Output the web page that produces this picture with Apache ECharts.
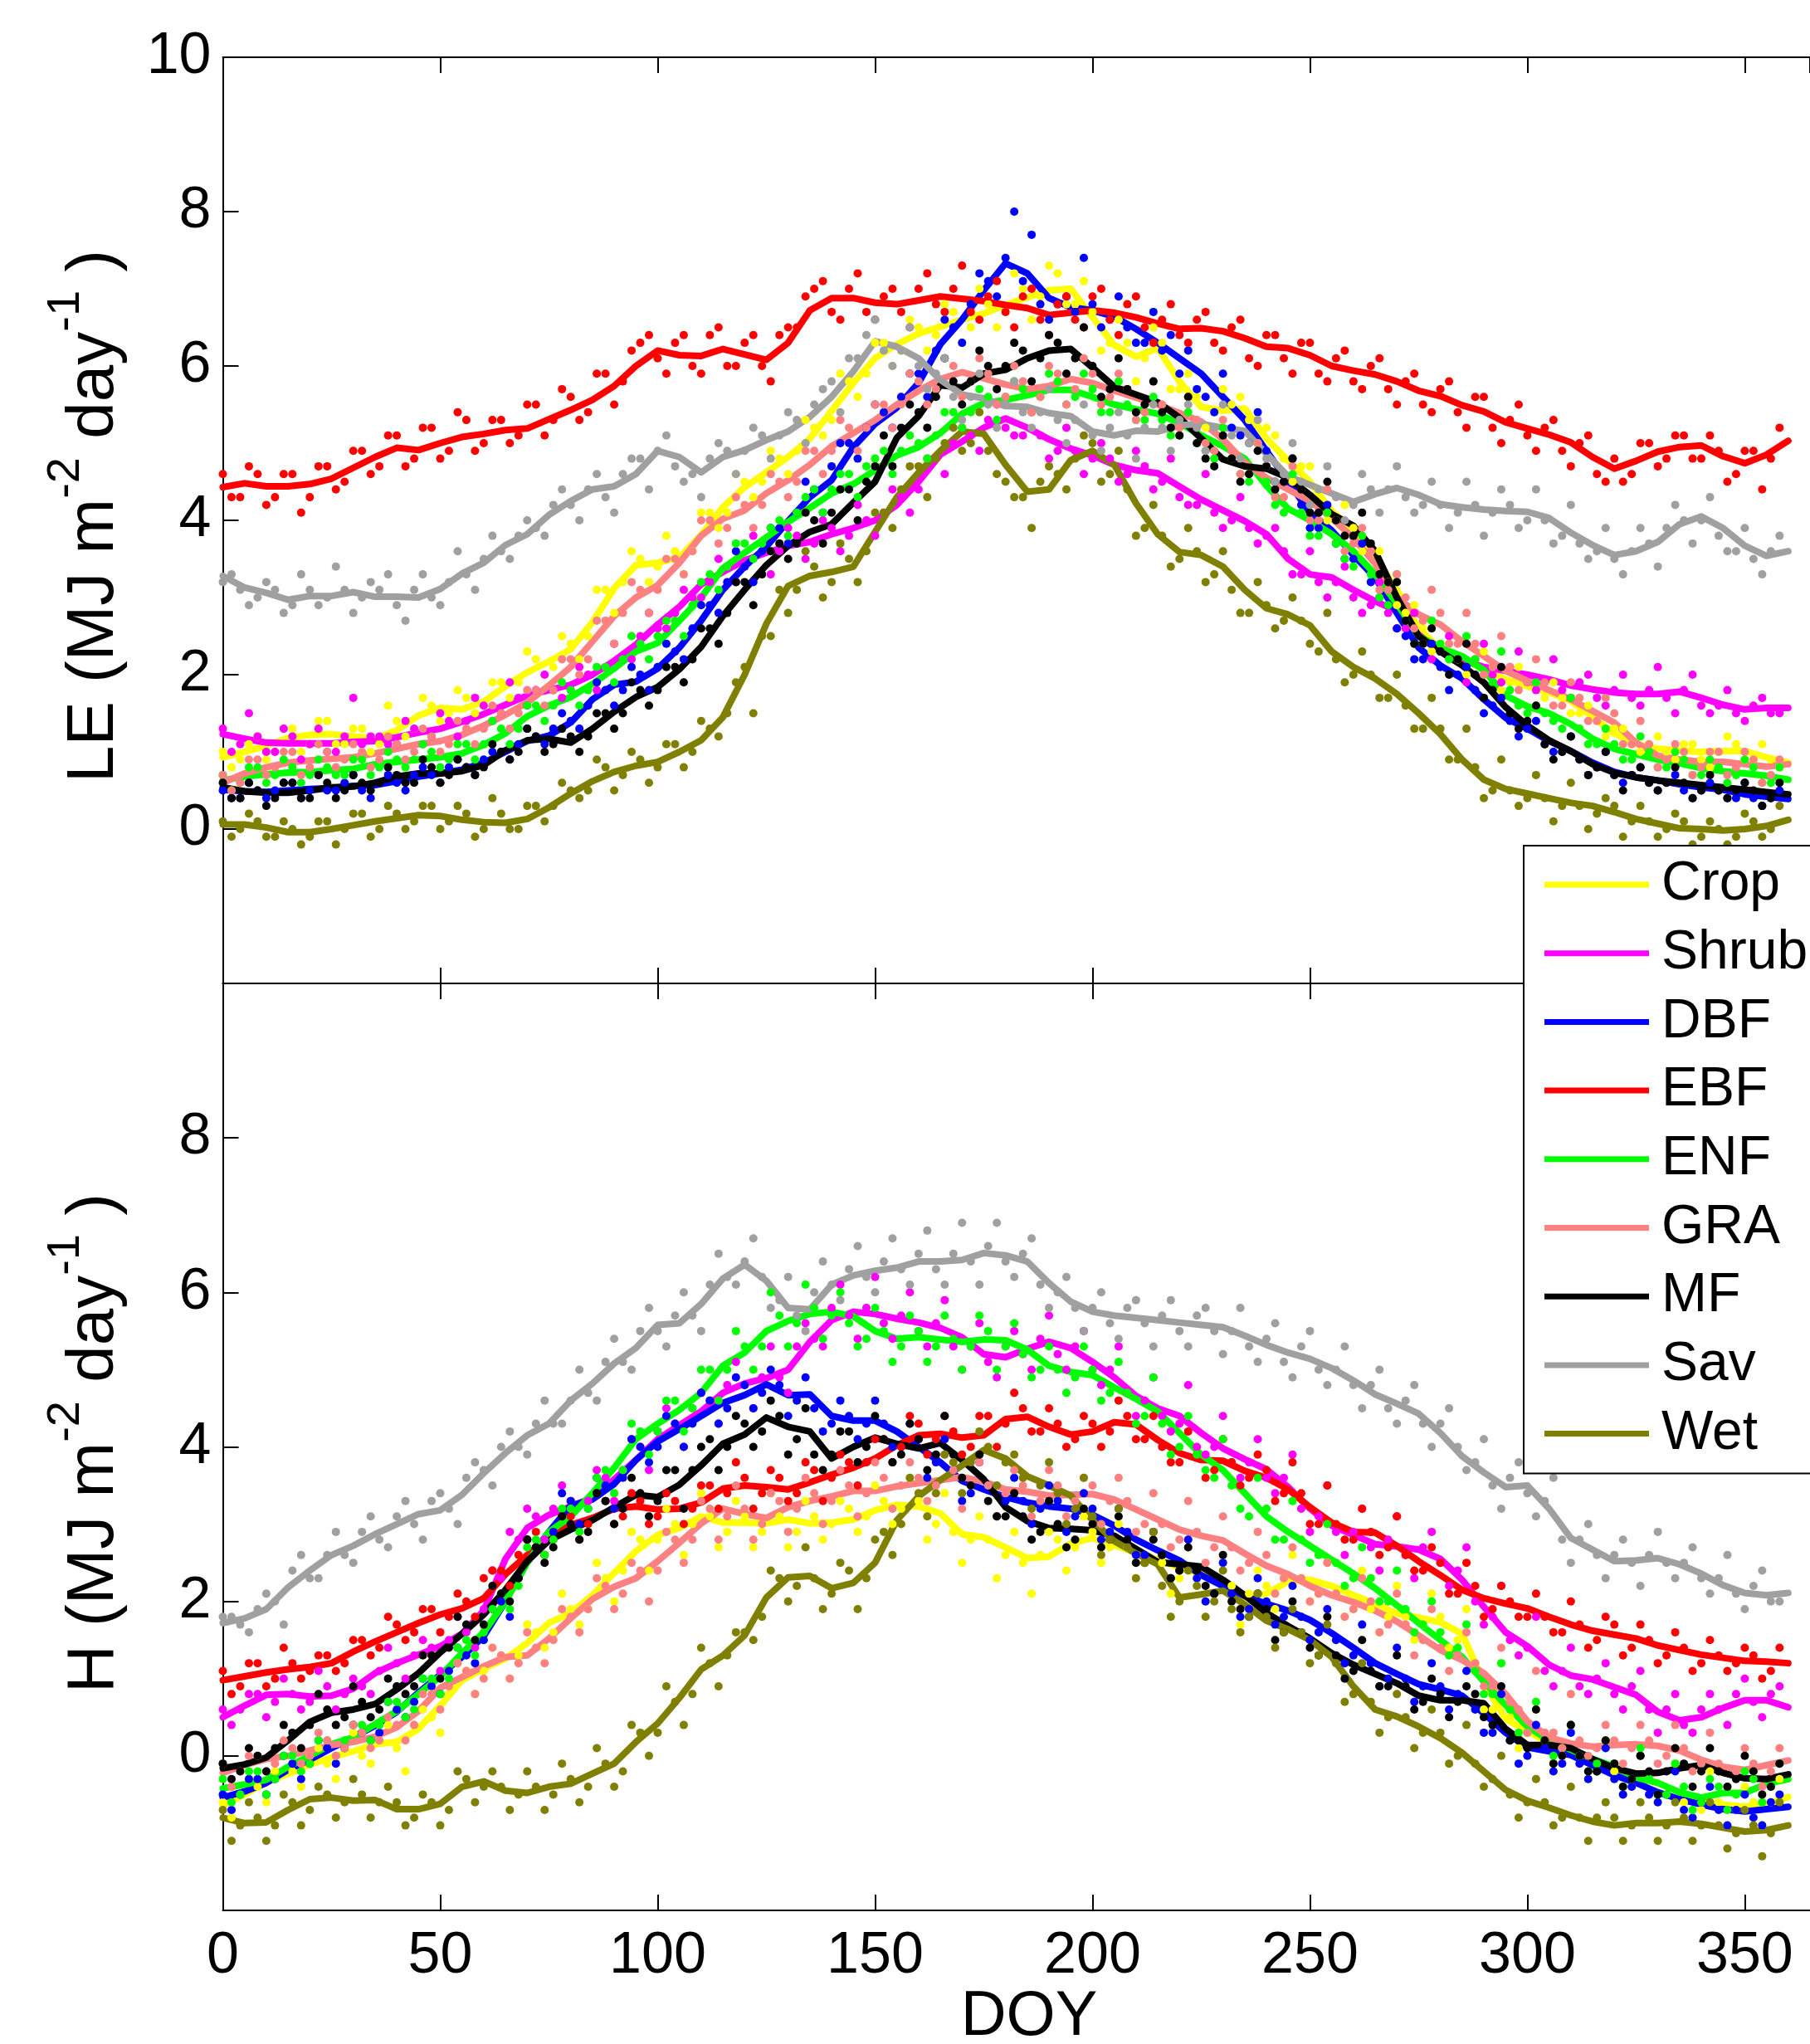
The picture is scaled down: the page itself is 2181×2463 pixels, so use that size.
<!DOCTYPE html>
<html><head><meta charset="utf-8">
<script src="https://cdn.jsdelivr.net/npm/echarts@6.0.0/dist/echarts.min.js"></script>
<style>html,body{margin:0;padding:0;background:#fff}#chart{width:2181px;height:2463px}</style>
</head><body><div id="chart"></div>
<script>
const classes = ['Crop','Shrub','DBF','EBF','ENF','GRA','MF','Sav','Wet'];

const lineDays = [0,5,10,15,20,25,30,35,40,45,50,55,60,65,70,75,80,85,90,95,100,105,110,115,120,125,130,135,140,145,150,155,160,165,170,175,180,185,190,195,200,205,210,215,220,225,230,235,240,245,250,255,260,265,270,275,280,285,290,295,300,305,310,315,320,325,330,335,340,345,350,355,360];
const dotDays = [2,6,10,14,18,22,26,30,34,38,42,46,50,54,58,62,66,70,74,78,82,86,90,94,98,102,106,110,114,118,122,126,130,134,138,142,146,150,154,158,162,166,170,174,178,182,186,190,194,198,202,206,210,214,218,222,226,230,234,238,242,246,250,254,258,262,266,270,274,278,282,286,290,294,298,302,306,310,314,318,322,326,330,334,338,342,346,350,354,358];
const dotDaysB = [0,4,8,12,16,20,24,28,32,36,40,44,48,52,56,60,64,68,72,76,80,84,88,92,96,100,104,108,112,116,120,124,128,132,136,140,144,148,152,156,160,164,168,172,176,180,184,188,192,196,200,204,208,212,216,220,224,228,232,236,240,244,248,252,256,260,264,268,272,276,280,284,288,292,296,300,304,308,312,316,320,324,328,332,336,340,344,348,352,356];

// ---- LE (top panel) smoothed lines ----
const leCropLine = [0.93,1.0,1.08,1.18,1.22,1.23,1.2,1.17,1.28,1.47,1.57,1.55,1.65,1.85,2.03,2.17,2.33,2.68,3.12,3.42,3.45,3.52,3.81,4.17,4.43,4.62,4.82,5.06,5.42,5.78,6.1,6.28,6.42,6.51,6.6,6.68,6.79,6.89,6.98,7.0,6.63,6.27,6.12,6.23,5.8,5.47,5.42,5.45,5.06,4.77,4.5,4.12,3.88,3.52,3.1,2.6,2.33,2.2,2.07,1.94,1.85,1.77,1.66,1.45,1.24,1.1,1.04,1.02,1.0,1.01,1.01,0.93,0.86];
const leShrubLine = [1.23,1.17,1.12,1.11,1.11,1.11,1.13,1.14,1.19,1.25,1.3,1.39,1.49,1.61,1.73,1.8,1.87,2.0,2.18,2.39,2.65,2.88,3.17,3.33,3.48,3.58,3.67,3.72,3.82,3.9,4.0,4.2,4.5,4.85,5.02,5.2,5.32,5.2,5.05,4.93,4.84,4.72,4.65,4.61,4.44,4.27,4.13,3.99,3.82,3.5,3.3,3.26,3.1,2.95,2.83,2.52,2.3,2.19,2.1,2.05,2.0,1.94,1.86,1.81,1.77,1.75,1.75,1.78,1.7,1.61,1.55,1.57,1.57];
const leDBFLine = [0.51,0.49,0.48,0.5,0.52,0.53,0.56,0.57,0.62,0.68,0.72,0.77,0.86,1.0,1.14,1.21,1.38,1.68,1.87,1.91,2.08,2.35,2.7,3.1,3.4,3.66,3.99,4.3,4.52,4.95,5.25,5.46,5.78,6.28,6.6,6.98,7.33,7.2,6.88,6.76,6.72,6.64,6.48,6.3,6.1,5.9,5.6,5.3,4.9,4.5,4.1,3.87,3.55,3.26,2.8,2.35,2.12,1.95,1.68,1.44,1.3,1.14,1.01,0.86,0.74,0.67,0.63,0.58,0.54,0.51,0.45,0.42,0.39];
const leEBFLine = [4.43,4.48,4.44,4.44,4.47,4.54,4.68,4.82,4.94,4.91,5.0,5.08,5.12,5.17,5.19,5.31,5.43,5.56,5.74,6.0,6.2,6.14,6.13,6.22,6.15,6.08,6.3,6.72,6.88,6.88,6.82,6.8,6.85,6.9,6.87,6.84,6.79,6.75,6.66,6.69,6.72,6.69,6.63,6.55,6.48,6.49,6.45,6.36,6.25,6.23,6.14,6.0,5.94,5.89,5.8,5.68,5.61,5.49,5.41,5.27,5.19,5.11,5.01,4.82,4.67,4.77,4.89,4.95,4.97,4.83,4.74,4.85,5.03];
const leENFLine = [0.63,0.68,0.71,0.73,0.74,0.76,0.78,0.84,0.87,0.9,0.93,0.98,1.09,1.24,1.46,1.6,1.71,1.88,2.08,2.3,2.41,2.7,3.0,3.38,3.58,3.78,3.98,4.16,4.35,4.47,4.65,4.84,4.95,5.13,5.38,5.52,5.56,5.62,5.69,5.69,5.6,5.5,5.44,5.38,5.26,5.1,4.96,4.8,4.45,4.15,4.0,3.82,3.6,3.3,2.92,2.5,2.35,2.24,2.06,1.73,1.59,1.5,1.36,1.17,1.04,0.97,0.9,0.85,0.79,0.75,0.72,0.69,0.64];
const leGRALine = [0.6,0.72,0.8,0.86,0.89,0.91,0.93,0.98,1.04,1.1,1.14,1.22,1.34,1.48,1.64,1.86,2.1,2.43,2.76,3.0,3.16,3.45,3.8,4.02,4.13,4.35,4.52,4.72,4.96,5.13,5.3,5.5,5.68,5.83,5.92,5.84,5.76,5.7,5.74,5.83,5.78,5.68,5.59,5.5,5.39,5.28,5.05,4.75,4.55,4.4,4.25,4.03,3.77,3.44,3.0,2.78,2.65,2.43,2.24,2.05,1.92,1.8,1.68,1.53,1.38,1.12,0.95,0.9,0.87,0.87,0.84,0.81,0.84];
const leMFLine = [0.54,0.49,0.47,0.47,0.5,0.54,0.55,0.6,0.68,0.72,0.72,0.75,0.83,1.02,1.15,1.17,1.12,1.3,1.52,1.71,1.84,2.07,2.36,2.76,3.1,3.42,3.67,3.85,3.95,4.23,4.5,5.07,5.35,5.75,5.72,5.9,5.95,6.1,6.2,6.22,5.98,5.73,5.63,5.53,5.33,5.06,4.79,4.7,4.67,4.55,4.33,4.08,3.93,3.6,3.0,2.5,2.3,2.12,1.9,1.58,1.34,1.15,1.01,0.84,0.73,0.67,0.63,0.6,0.57,0.54,0.51,0.48,0.45];
const leSavLine = [3.28,3.13,3.06,2.97,3.02,3.02,3.07,3.01,3.01,3.0,3.11,3.31,3.45,3.68,3.82,4.07,4.25,4.4,4.44,4.6,4.9,4.82,4.62,4.82,4.91,5.04,5.15,5.34,5.6,5.93,6.32,6.25,6.1,5.82,5.63,5.58,5.48,5.47,5.39,5.35,5.15,5.1,5.16,5.15,5.23,5.25,5.2,5.16,4.86,4.57,4.46,4.35,4.24,4.34,4.42,4.33,4.21,4.17,4.14,4.12,4.11,4.03,3.84,3.68,3.55,3.6,3.72,3.95,4.05,3.9,3.67,3.54,3.6];
const leWetLine = [0.06,0.06,0.02,-0.04,-0.04,0.0,0.05,0.1,0.14,0.18,0.17,0.12,0.09,0.08,0.13,0.28,0.46,0.62,0.74,0.82,0.87,1.0,1.15,1.45,2.0,2.66,3.15,3.28,3.33,3.4,3.85,4.3,4.62,4.9,5.15,5.12,4.72,4.37,4.4,4.78,4.9,4.72,4.22,3.82,3.59,3.55,3.4,3.1,2.86,2.78,2.64,2.3,2.1,1.95,1.75,1.5,1.23,0.9,0.64,0.52,0.46,0.4,0.34,0.3,0.22,0.13,0.07,0.01,0.0,-0.02,0.0,0.04,0.12];

// ---- LE daily points (two interleaved sets of days) ----
const leCropDots = [0.8,1.1,0.9,1.3,1.0,1.4,1.1,1.3,1.0,1.6, 1.2,1.7,1.4,1.8,1.5,1.9,1.7,2.3,2.0,2.5, 2.2,3.1,2.8,3.6,3.2,3.8,3.3,4.1,3.9,4.6, 4.3,4.9,4.6,5.3,5.1,5.9,5.6,6.3,6.0,6.6, 6.2,6.8,6.3,7.0,6.5,7.2,6.6,7.3,6.8,7.1, 6.2,6.6,5.8,6.5,5.7,5.9,5.2,5.7,5.6,5.0, 5.1,4.5,4.7,4.0,4.2,3.6,3.6,2.9,2.9,2.3, 2.4,2.0,2.3,1.8,2.1,1.6,1.9,1.5,1.6,1.2, 1.3,1.0,1.2,0.9,1.1,0.8,1.2,0.9,1.1,0.8];
const leCropDotsB = [1.0,0.9,1.2,1.0,1.3,1.1,1.4,1.1,1.3,1.1, 1.4,1.3,1.6,1.5,1.7,1.6,1.9,1.9,2.2,2.1, 2.4,2.5,3.1,3.2,3.5,3.4,3.6,3.6,4.1,4.1, 4.5,4.5,4.8,4.9,5.2,5.3,5.8,5.9,6.3,6.2, 6.5,6.4,6.7,6.5,6.8,6.7,7.0,6.9,7.2,6.8, 6.7,6.3,6.3,6.1,6.3,5.7,5.6,5.4,5.5,5.3, 5.2,4.8,4.7,4.4,4.0,3.9,3.6,3.2,2.8,2.6, 2.4,2.2,2.2,2.0,1.9,1.9,1.7,1.7,1.5,1.4, 1.3,1.1,1.1,1.0,1.1,0.9,1.0,1.1,0.9,0.9];
const leShrubDots = [1.0,1.5,1.0,1.3,0.9,1.3,1.0,1.7,1.2,1.1, 1.4,1.1,1.5,1.2,1.7,1.4,1.9,1.6,2.0,1.7, 2.1,1.8,2.4,2.2,2.8,2.6,3.1,3.0,3.5,3.2, 3.8,3.3,3.9,3.5,4.0,3.6,4.2,3.8,4.4,4.1, 4.8,4.6,5.2,4.9,5.5,5.1,5.4,4.8,5.2,4.6, 5.0,4.5,4.9,4.4,4.8,4.2,4.6,3.9,4.3,3.7, 3.9,3.3,3.6,3.0,3.4,2.8,3.2,2.6,2.8,2.2, 2.5,1.9,2.4,1.9,2.3,1.8,2.2,1.7,2.0,1.6, 2.0,1.6,2.1,1.5,2.0,1.5,1.8,1.4,1.7,1.5];
const leShrubDotsB = [1.3,1.1,1.2,1.0,1.2,1.1,1.0,1.2,1.1,1.2, 1.1,1.3,1.2,1.4,1.4,1.6,1.5,1.7,1.8,1.8, 1.8,2.0,2.1,2.2,2.5,2.6,2.8,3.0,3.2,3.4, 3.4,3.6,3.6,3.8,3.7,3.9,3.8,4.0,4.1,4.3, 4.4,4.8,5.0,5.1,5.3,5.2,5.1,5.1,4.9,4.9, 4.8,4.8,4.6,4.7,4.5,4.3,4.2,4.1,4.0,3.9, 3.8,3.6,3.3,3.2,3.2,3.0,2.9,2.8,2.6,2.4, 2.3,2.2,2.2,2.0,2.1,1.9,1.9,1.8,1.9,1.7, 1.8,1.7,1.8,1.7,1.8,1.6,1.6,1.5,1.6,1.5];
const leDBFDots = [0.4,0.6,0.4,0.6,0.4,0.7,0.5,0.7,0.4,0.7, 0.5,0.8,0.6,0.9,0.7,1.0,0.9,1.3,1.1,1.5, 1.3,1.9,1.6,2.1,1.8,2.4,2.2,2.9,2.8,3.6, 3.2,3.9,3.7,4.5,4.1,5.0,4.8,5.5,5.2,5.9, 5.6,6.6,6.3,7.2,6.9,8.0,7.7,6.6,6.9,7.4, 6.5,6.9,6.3,6.7,6.4,6.2,5.6,5.9,5.1,5.4, 4.5,4.8,3.9,4.2,3.5,3.7,3.0,2.6,2.2,2.4, 1.8,2.1,1.5,1.7,1.2,1.4,1.0,1.2,0.7,1.0, 0.6,0.8,0.5,0.7,0.4,0.6,0.4,0.6,0.3,0.5];
const leDBFDotsB = [0.5,0.4,0.5,0.5,0.6,0.5,0.5,0.6,0.5,0.6, 0.6,0.7,0.7,0.8,0.8,0.9,1.0,1.1,1.2,1.3, 1.4,1.6,1.8,1.8,2.0,2.1,2.3,2.6,2.9,3.2, 3.4,3.6,3.9,4.1,4.4,4.7,5.0,5.2,5.4,5.6, 5.9,6.2,6.5,6.8,7.1,7.4,7.1,6.8,6.8,6.7, 6.8,6.6,6.5,6.3,6.2,5.9,5.7,5.4,5.2,5.0, 4.9,4.5,4.2,3.9,3.7,3.5,3.2,2.9,2.5,2.2, 2.1,2.0,1.8,1.6,1.4,1.3,1.1,1.0,0.9,0.8, 0.7,0.7,0.6,0.6,0.5,0.5,0.5,0.4,0.4,0.4];
const leEBFDots = [4.3,4.7,4.2,4.6,4.1,4.7,4.4,4.9,4.6,5.1, 4.7,5.2,4.8,5.4,4.9,5.3,5.0,5.5,5.1,5.7, 5.3,5.9,5.5,6.2,6.4,5.9,6.4,5.9,6.5,6.0, 6.4,5.8,6.5,6.9,7.1,6.6,7.2,6.6,7.0,6.5, 7.2,6.7,7.3,6.6,7.1,6.5,7.0,6.4,6.9,6.5, 7.0,6.4,6.9,6.3,6.8,6.3,6.7,6.2,6.6,6.0, 6.4,5.9,6.3,5.8,6.2,5.7,6.1,5.5,5.9,5.4, 5.8,5.2,5.6,5.0,5.5,4.9,5.3,4.7,5.1,4.5, 4.5,5.0,4.7,5.1,4.8,5.1,4.5,4.9,4.4,5.2];
const leEBFDotsB = [4.6,4.3,4.6,4.3,4.6,4.3,4.7,4.5,4.9,4.7, 5.1,4.8,5.2,4.9,5.3,5.0,5.3,5.1,5.5,5.3, 5.6,5.4,5.9,5.8,6.3,6.1,6.3,6.0,6.4,6.0, 6.3,6.0,6.4,6.5,7.0,6.7,7.0,6.7,6.9,6.7, 7.0,6.8,7.0,6.7,6.9,6.7,6.9,6.6,6.8,6.6, 6.9,6.6,6.8,6.5,6.6,6.4,6.6,6.3,6.5,6.1, 6.4,6.1,6.3,5.9,6.1,5.8,6.0,5.7,5.8,5.5, 5.7,5.4,5.6,5.2,5.3,5.1,5.2,4.9,5.0,4.6, 4.8,4.6,5.0,4.8,5.1,4.8,4.9,4.6,4.9,4.8];
const leENFDots = [0.5,0.8,0.6,0.9,0.6,0.9,0.7,0.9,0.7,1.0, 0.8,1.1,0.8,1.1,0.9,1.4,1.1,1.6,1.4,1.9, 1.6,2.1,1.9,2.5,2.2,2.7,2.5,3.2,3.1,3.7, 3.5,3.9,3.8,4.3,4.1,4.6,4.3,4.8,4.6,5.1, 4.8,5.4,5.2,5.7,5.3,5.8,5.4,5.9,5.5,5.9, 5.4,5.8,5.3,5.6,5.1,5.4,4.9,5.2,4.6,5.0, 4.2,4.6,3.8,4.1,3.5,3.8,3.0,3.3,2.4,2.7, 2.2,2.5,2.0,2.3,1.6,1.9,1.4,1.7,1.1,1.3, 0.9,1.2,0.8,1.0,0.7,0.9,0.6,0.9,0.6,0.8];
const leENFDotsB = [0.7,0.6,0.8,0.7,0.8,0.7,0.8,0.7,0.9,0.8, 0.9,0.9,1.0,0.9,1.1,1.1,1.3,1.3,1.6,1.6, 1.8,1.8,2.1,2.2,2.4,2.5,2.7,2.9,3.3,3.4, 3.7,3.7,4.0,4.1,4.4,4.4,4.6,4.7,4.9,4.9, 5.0,5.1,5.4,5.4,5.6,5.6,5.7,5.6,5.8,5.6, 5.7,5.4,5.5,5.3,5.3,5.1,5.0,4.8,4.8,4.5, 4.5,4.1,4.1,3.8,3.7,3.4,3.3,2.9,2.7,2.4, 2.4,2.2,2.2,1.9,1.8,1.5,1.5,1.3,1.3,1.1, 1.1,0.9,1.0,0.8,0.9,0.7,0.8,0.7,0.8,0.6];
const leGRADots = [0.5,0.9,0.7,1.0,0.7,1.1,0.8,1.1,0.8,1.2, 0.9,1.3,1.0,1.4,1.1,1.6,1.3,1.8,1.6,2.2, 2.0,2.7,2.4,3.2,2.8,3.5,3.3,4.0,3.7,4.3, 3.9,4.6,4.3,4.9,4.6,5.3,4.9,5.5,5.2,5.9, 5.5,6.1,5.6,6.1,5.5,6.0,5.4,6.0,5.5,6.1, 5.5,5.9,5.3,5.8,5.2,5.6,5.0,5.3,4.6,5.0, 4.3,4.7,4.0,4.4,3.6,3.9,3.1,3.3,2.6,3.1, 2.4,2.8,2.0,2.5,1.8,2.2,1.6,1.9,1.4,1.7, 1.1,1.4,0.8,1.1,0.7,1.0,0.7,1.0,0.6,0.9];
const leGRADotsB = [0.7,0.6,0.9,0.8,1.0,0.8,1.0,0.9,1.0,0.9, 1.1,1.0,1.2,1.1,1.3,1.3,1.5,1.5,1.8,1.8, 2.2,2.2,2.7,2.8,3.1,3.1,3.5,3.6,4.0,3.9, 4.2,4.2,4.5,4.5,4.9,4.9,5.2,5.2,5.5,5.5, 5.8,5.7,6.0,5.8,5.9,5.6,5.8,5.6,5.9,5.7, 5.9,5.6,5.7,5.4,5.5,5.2,5.3,4.9,4.9,4.6, 4.7,4.3,4.4,4.0,4.0,3.7,3.6,3.1,3.0,2.7, 2.8,2.4,2.4,2.1,2.1,1.9,1.9,1.6,1.7,1.4, 1.5,1.1,1.1,0.9,1.0,0.8,1.0,0.8,0.9,0.7];
const leMFDots = [0.4,0.6,0.3,0.6,0.4,0.7,0.4,0.7,0.5,0.8, 0.6,0.9,0.6,0.9,0.7,1.1,0.9,1.3,1.0,1.3, 1.0,1.5,1.3,1.9,1.6,2.1,1.9,2.6,2.4,3.2, 2.9,3.6,3.5,4.1,3.7,4.4,4.0,4.7,4.7,5.5, 5.2,6.1,5.5,6.2,5.7,6.3,5.8,6.4,5.9,6.5, 5.6,6.1,5.4,5.8,5.2,5.6,4.8,5.1,4.5,4.9, 4.4,4.8,4.1,4.5,3.8,4.1,3.3,3.2,2.4,2.6, 2.0,2.4,1.7,2.1,1.3,1.6,0.9,1.2,0.7,1.0, 0.5,0.8,0.5,0.8,0.4,0.7,0.4,0.6,0.3,0.6];
const leMFDotsB = [0.6,0.4,0.5,0.4,0.6,0.4,0.6,0.5,0.6,0.6, 0.7,0.6,0.8,0.7,0.8,0.8,1.0,1.0,1.2,1.1, 1.2,1.2,1.5,1.5,1.8,1.8,2.1,2.2,2.6,2.8, 3.2,3.3,3.7,3.7,4.0,4.1,4.4,4.5,5.1,5.2, 5.4,5.6,5.8,5.8,6.0,6.0,6.2,6.1,6.3,6.1, 6.0,5.7,5.7,5.5,5.4,5.1,5.0,4.7,4.8,4.6, 4.7,4.5,4.4,4.1,4.0,3.8,3.7,3.2,2.7,2.4, 2.3,2.2,2.0,1.8,1.5,1.4,1.1,1.0,0.9,0.8, 0.7,0.7,0.6,0.6,0.6,0.5,0.5,0.5,0.5,0.4];
const leSavDots = [3.3,2.9,3.2,2.8,3.3,2.9,3.4,2.8,3.2,3.3, 2.7,3.3,2.9,3.6,3.1,3.8,3.5,4.0,3.8,4.4, 4.0,4.6,4.1,4.8,4.4,5.1,4.5,4.3,5.0,4.6, 5.2,4.8,5.4,5.0,5.7,5.4,6.1,6.6,6.0,6.5, 5.7,6.1,5.3,5.9,5.2,5.8,5.2,5.7,5.0,5.5, 4.9,5.4,4.8,5.5,4.9,5.5,4.9,5.5,4.8,5.3, 4.5,5.0,4.2,4.7,4.0,4.6,4.1,4.7,4.1,4.5, 3.9,4.5,3.8,4.4,3.9,4.4,3.7,4.2,3.5,3.9, 3.3,3.9,3.4,4.2,3.7,4.3,3.6,3.9,3.3,3.8];
const leSavDotsB = [3.2,3.1,3.0,3.1,2.9,3.1,3.0,3.1,3.0,3.1, 2.9,3.1,3.0,3.2,3.3,3.5,3.6,3.8,3.9,4.2, 4.2,4.4,4.3,4.6,4.8,4.9,4.7,4.6,4.8,4.9, 4.9,5.1,5.1,5.3,5.5,5.8,6.1,6.4,6.2,6.2, 6.0,5.9,5.6,5.6,5.5,5.5,5.4,5.4,5.3,5.3, 5.1,5.2,5.1,5.2,5.2,5.3,5.2,5.2,5.1,5.0, 4.8,4.6,4.5,4.4,4.3,4.2,4.4,4.4,4.3,4.2, 4.2,4.1,4.2,4.1,4.2,4.0,4.0,3.8,3.7,3.6, 3.5,3.6,3.7,3.9,4.0,4.0,3.8,3.6,3.5,3.6];
const leWetDots = [-0.1,0.2,-0.1,0.1,-0.2,0.1,-0.2,0.2,-0.1,0.3, 0.0,0.3,0.0,0.3,-0.1,0.4,0.0,0.3,0.1,0.6, 0.4,0.9,0.5,1.0,0.6,1.1,0.8,1.4,1.2,1.9, 1.5,2.5,2.8,3.6,3.0,3.7,3.2,4.1,3.9,4.7, 4.3,5.0,4.9,5.4,4.6,4.3,3.9,4.7,4.4,5.1, 4.5,4.9,3.8,4.2,3.4,3.9,3.2,3.6,2.8,3.2, 2.6,3.0,2.4,2.8,1.9,2.3,1.7,2.0,1.3,1.7, 0.9,1.3,0.4,0.9,0.3,0.7,0.1,0.6,0.0,0.4, -0.1,0.3,-0.1,0.2,-0.2,0.1,-0.2,0.2,-0.1,0.3];
const leWetDotsB = [0.1,0.0,0.1,-0.1,0.0,-0.1,0.1,0.0,0.2,0.0, 0.2,0.1,0.3,0.1,0.2,0.0,0.2,0.0,0.3,0.3, 0.5,0.5,0.8,0.7,0.9,0.8,1.1,1.0,1.3,1.5, 2.1,2.5,3.1,3.1,3.4,3.2,3.5,3.6,4.1,4.4, 4.7,4.8,5.2,5.0,4.9,4.5,4.3,4.5,4.6,4.8, 5.0,4.6,4.4,3.9,3.8,3.5,3.6,3.3,3.1,2.8, 2.9,2.7,2.7,2.3,2.2,2.0,2.0,1.7,1.6,1.3, 1.3,0.9,0.8,0.5,0.5,0.4,0.4,0.3,0.3,0.2, 0.3,0.1,0.1,0.0,0.1,-0.1,0.0,-0.1,0.1,0.0];

// ---- H (bottom panel) smoothed lines ----
const hCropLine = [-0.64,-0.5,-0.34,-0.23,-0.11,-0.02,0.06,0.15,0.18,0.35,0.65,0.98,1.13,1.26,1.46,1.72,1.85,2.08,2.37,2.65,2.86,2.95,3.1,3.02,3.02,3.01,3.06,3.01,3.02,3.06,3.18,3.25,3.23,3.14,2.87,2.83,2.7,2.56,2.58,2.75,2.82,2.73,2.63,2.54,2.44,2.35,2.25,2.05,2.1,2.26,2.28,2.2,2.08,1.97,1.84,1.79,1.73,1.58,0.95,0.48,0.32,0.17,0.07,-0.07,-0.19,-0.29,-0.35,-0.47,-0.59,-0.63,-0.66,-0.63,-0.53];
const hShrubLine = [0.5,0.65,0.79,0.8,0.77,0.78,0.87,1.07,1.2,1.31,1.42,1.58,1.88,2.55,2.95,3.12,3.23,3.34,3.58,3.83,4.1,4.28,4.46,4.7,4.82,4.89,5.0,5.36,5.64,5.75,5.72,5.66,5.61,5.54,5.42,5.2,5.16,5.27,5.36,5.28,5.1,4.9,4.66,4.5,4.4,4.18,3.98,3.84,3.71,3.48,3.2,2.98,2.86,2.74,2.71,2.67,2.55,2.28,1.93,1.6,1.42,1.18,1.04,0.99,0.89,0.79,0.57,0.46,0.5,0.62,0.72,0.72,0.63];
const hDBFLine = [-0.54,-0.46,-0.35,-0.18,-0.05,0.1,0.24,0.39,0.57,0.82,1.05,1.28,1.55,2.0,2.53,2.9,3.24,3.32,3.52,3.83,4.07,4.23,4.4,4.57,4.67,4.81,4.67,4.68,4.4,4.34,4.34,4.2,4.0,3.8,3.56,3.45,3.35,3.28,3.23,3.2,3.12,2.98,2.8,2.66,2.53,2.34,2.2,2.07,1.97,1.88,1.76,1.59,1.4,1.2,1.06,0.93,0.86,0.78,0.55,0.3,0.11,0.06,0.01,-0.12,-0.25,-0.35,-0.47,-0.56,-0.63,-0.69,-0.72,-0.69,-0.66];
const hEBFLine = [0.98,1.03,1.08,1.12,1.15,1.2,1.35,1.48,1.6,1.72,1.83,1.91,2.04,2.35,2.6,2.83,2.99,3.08,3.2,3.23,3.19,3.2,3.28,3.46,3.5,3.48,3.45,3.54,3.64,3.73,3.85,4.02,4.15,4.17,4.12,4.15,4.36,4.39,4.26,4.16,4.2,4.32,4.29,4.09,3.92,3.83,3.82,3.69,3.6,3.45,3.22,3.02,2.9,2.89,2.72,2.52,2.34,2.15,2.04,1.97,1.91,1.8,1.7,1.62,1.57,1.52,1.43,1.37,1.31,1.27,1.23,1.22,1.2];
const hENFLine = [-0.42,-0.37,-0.31,-0.14,0.0,0.15,0.24,0.41,0.58,0.8,1.03,1.33,1.6,2.0,2.5,2.9,3.1,3.4,3.73,4.1,4.3,4.48,4.7,5.05,5.22,5.5,5.63,5.72,5.75,5.69,5.5,5.4,5.42,5.39,5.36,5.39,5.38,5.26,5.05,4.97,4.93,4.77,4.62,4.46,4.18,3.9,3.7,3.4,3.1,2.9,2.72,2.54,2.36,2.17,1.95,1.72,1.5,1.28,0.96,0.66,0.38,0.2,0.08,-0.04,-0.14,-0.28,-0.35,-0.47,-0.54,-0.48,-0.48,-0.36,-0.3];
const hGRALine = [-0.22,-0.12,-0.04,0.0,0.07,0.14,0.18,0.25,0.37,0.58,0.88,1.02,1.16,1.28,1.3,1.52,1.78,2.03,2.19,2.3,2.52,2.76,3.01,3.2,3.13,3.08,3.22,3.3,3.36,3.43,3.43,3.49,3.53,3.57,3.61,3.55,3.45,3.42,3.37,3.38,3.39,3.32,3.19,3.06,2.93,2.85,2.79,2.62,2.46,2.35,2.2,2.08,1.99,1.88,1.74,1.56,1.37,1.24,1.07,0.8,0.45,0.24,0.16,0.12,0.14,0.15,0.13,0.07,-0.05,-0.14,-0.18,-0.12,-0.06];
const hMFLine = [-0.16,-0.11,-0.02,0.2,0.44,0.56,0.6,0.67,0.86,1.07,1.34,1.58,1.83,2.15,2.52,2.79,2.93,3.05,3.22,3.38,3.35,3.51,3.76,4.04,4.16,4.38,4.26,4.2,3.85,4.0,4.12,4.04,3.98,4.05,3.83,3.58,3.22,3.04,2.95,2.94,2.92,2.85,2.68,2.51,2.48,2.45,2.28,2.08,1.85,1.68,1.52,1.33,1.18,1.06,0.94,0.78,0.72,0.72,0.68,0.35,0.14,0.14,0.1,-0.04,-0.16,-0.23,-0.22,-0.16,-0.12,-0.22,-0.29,-0.3,-0.24];
const hSavLine = [1.72,1.78,1.9,2.18,2.4,2.6,2.72,2.87,3.0,3.13,3.18,3.38,3.66,3.92,4.15,4.3,4.6,4.82,5.08,5.28,5.58,5.6,5.85,6.18,6.36,6.15,5.8,5.78,6.1,6.22,6.28,6.32,6.4,6.4,6.42,6.51,6.48,6.4,6.12,5.88,5.75,5.7,5.67,5.64,5.61,5.58,5.55,5.44,5.32,5.22,5.14,5.02,4.86,4.68,4.56,4.43,4.18,3.88,3.67,3.48,3.5,3.2,2.82,2.67,2.52,2.53,2.56,2.48,2.36,2.21,2.11,2.08,2.11];
const hWetLine = [-0.8,-0.87,-0.86,-0.7,-0.56,-0.54,-0.58,-0.57,-0.69,-0.69,-0.62,-0.4,-0.33,-0.45,-0.48,-0.4,-0.36,-0.23,-0.1,0.18,0.42,0.75,1.12,1.3,1.56,2.05,2.31,2.33,2.17,2.24,2.5,3.05,3.36,3.57,3.76,3.96,3.85,3.62,3.5,3.37,3.05,2.78,2.62,2.48,2.05,2.09,2.14,1.96,1.75,1.64,1.5,1.28,0.9,0.6,0.51,0.38,0.23,0.04,-0.2,-0.44,-0.58,-0.67,-0.77,-0.85,-0.9,-0.87,-0.87,-0.85,-0.88,-0.93,-0.98,-0.96,-0.9];

// ---- H daily points (two interleaved sets of days) ----
const hCropDots = [-0.8,-0.3,-0.6,0.0,-0.4,0.1,-0.3,0.3,-0.1,0.4, -0.2,0.6,0.3,1.2,0.8,1.4,1.0,1.7,1.4,2.1, 1.7,2.5,2.0,2.9,2.4,3.2,2.6,3.4,2.7,3.3, 2.7,3.4,2.7,3.3,2.8,3.3,2.9,3.5,3.0,3.6, 2.8,3.4,2.5,3.1,2.3,2.9,2.1,2.9,2.4,3.1, 2.5,3.0,2.3,2.9,2.1,2.7,2.0,2.6,1.7,2.4, 1.9,2.6,2.0,2.5,1.8,2.4,1.6,2.2,1.5,2.1, 1.4,1.9,0.6,1.2,0.1,0.6,-0.1,0.4,-0.3,0.2, -0.5,0.0,-0.6,-0.1,-0.8,-0.2,-0.9,-0.4,-0.9,-0.3];
const hCropDotsB = [-0.6,-0.5,-0.4,-0.2,-0.2,0.0,-0.1,0.1,0.0,0.2, 0.1,0.4,0.5,0.8,1.1,1.1,1.3,1.3,1.6,1.6, 1.9,1.9,2.3,2.4,2.8,2.8,3.0,3.0,3.1,2.9, 3.1,2.9,3.1,2.9,3.1,3.0,3.2,3.1,3.3,3.2, 3.3,3.0,2.9,2.8,2.8,2.6,2.5,2.6,2.8,2.7, 2.9,2.7,2.7,2.5,2.5,2.3,2.3,2.1,2.2,2.1, 2.2,2.3,2.3,2.1,2.1,1.9,1.9,1.8,1.8,1.7, 1.8,1.5,1.2,0.6,0.5,0.3,0.2,0.0,0.0,-0.2, -0.2,-0.4,-0.3,-0.5,-0.6,-0.7,-0.6,-0.7,-0.6,-0.6];
const hShrubDots = [0.4,0.8,0.5,1.0,0.6,1.1,0.6,1.0,0.8,1.4, 1.0,1.5,1.1,1.8,1.4,2.4,2.9,3.2,2.8,3.5, 3.0,3.7,3.3,4.1,3.7,4.5,4.0,4.7,4.3,5.1, 4.5,5.3,4.7,5.6,5.3,6.1,5.4,6.2,5.4,6.0, 5.3,5.9,5.0,5.6,4.9,5.5,5.0,5.7,5.0,5.5, 4.8,5.3,4.4,4.9,4.2,4.8,3.9,4.4,3.6,4.1, 3.4,3.9,2.9,3.5,2.6,3.2,2.4,3.1,2.3,2.9, 2.2,2.7,1.7,2.2,1.3,1.8,0.9,1.4,0.8,1.2, 0.6,1.1,0.3,0.8,0.3,0.8,0.4,1.0,0.5,0.9];
const hShrubDotsB = [0.6,0.6,0.8,0.7,0.8,0.7,0.9,0.8,0.9,1.1, 1.2,1.3,1.4,1.5,1.6,1.9,2.3,2.8,3.1,3.2, 3.3,3.3,3.6,3.7,4.0,4.2,4.3,4.5,4.6,4.8, 4.8,4.9,4.9,5.3,5.4,5.8,5.7,5.8,5.6,5.7, 5.5,5.6,5.3,5.3,5.1,5.3,5.2,5.4,5.2,5.3, 5.0,5.0,4.7,4.6,4.4,4.3,4.0,4.0,3.8,3.8, 3.6,3.6,3.2,3.1,2.9,2.9,2.7,2.8,2.6,2.7, 2.5,2.4,2.0,1.8,1.5,1.4,1.1,1.1,0.9,1.0, 0.8,0.9,0.6,0.6,0.4,0.6,0.6,0.8,0.7,0.8];
const hDBFDots = [-0.7,-0.3,-0.5,0.0,-0.3,0.2,-0.1,0.4,0.2,0.7, 0.5,1.0,0.8,1.4,1.2,1.9,1.8,2.8,2.6,3.4, 3.0,3.6,3.2,4.1,3.8,4.4,4.0,4.7,4.3,4.9, 4.5,5.0,4.4,4.9,4.2,4.6,4.1,4.6,4.0,4.3, 3.6,4.1,3.3,3.8,3.1,3.6,3.0,3.5,2.9,3.4, 2.8,3.2,2.6,2.9,2.3,2.8,2.0,2.5,1.8,2.3, 1.7,2.2,1.5,1.9,1.2,1.7,0.9,1.4,0.7,1.2, 0.6,1.1,0.3,0.8,-0.1,0.4,-0.2,0.3,-0.3,0.1, -0.5,0.0,-0.6,-0.2,-0.8,-0.4,-0.9,-0.5,-0.9,-0.5];
const hDBFDotsB = [-0.5,-0.5,-0.3,-0.3,-0.1,-0.1,0.1,0.1,0.3,0.3, 0.6,0.7,0.9,1.1,1.3,1.5,2.0,2.3,2.7,2.9, 3.3,3.2,3.5,3.6,4.0,4.0,4.3,4.3,4.6,4.5, 4.8,4.7,4.8,4.6,4.5,4.3,4.4,4.3,4.3,4.0, 4.1,3.8,3.7,3.4,3.5,3.3,3.3,3.2,3.3,3.1, 3.2,2.9,2.9,2.6,2.6,2.4,2.3,2.1,2.1,1.9, 2.0,1.8,1.8,1.6,1.5,1.3,1.2,1.0,1.0,0.9, 0.9,0.8,0.6,0.3,0.2,0.0,0.1,-0.1,-0.1,-0.2, -0.3,-0.4,-0.5,-0.5,-0.7,-0.6,-0.7,-0.7,-0.8,-0.6];
const hEBFDots = [0.8,1.2,0.9,1.4,1.0,1.3,1.1,1.5,1.3,1.8, 1.5,1.9,1.6,2.1,1.8,2.4,2.2,2.8,2.6,3.1, 2.8,3.4,3.0,3.4,3.0,3.4,3.0,3.5,3.2,3.8, 3.2,3.7,3.3,3.8,3.3,3.9,3.5,4.1,3.8,4.4, 3.9,4.4,3.9,4.4,4.0,4.7,4.2,4.5,4.0,4.4, 4.0,4.6,4.1,4.4,3.8,4.2,3.6,4.1,3.5,3.9, 3.3,3.8,3.0,3.5,2.8,3.2,2.6,3.1,2.4,2.7, 2.1,2.5,1.8,2.2,1.8,2.1,1.6,2.0,1.4,1.8, 1.3,1.7,1.2,1.6,1.1,1.5,1.1,1.4,1.0,1.4];
const hEBFDotsB = [1.1,0.9,1.2,1.0,1.2,1.1,1.3,1.2,1.5,1.4, 1.7,1.6,1.9,1.8,2.0,2.3,2.4,2.6,2.9,2.8, 3.1,3.0,3.3,3.1,3.3,3.1,3.3,3.2,3.5,3.4, 3.6,3.4,3.6,3.4,3.7,3.6,3.8,3.8,4.1,4.0, 4.3,4.1,4.2,4.0,4.4,4.3,4.5,4.2,4.3,4.1, 4.3,4.2,4.4,4.1,4.0,3.8,3.9,3.7,3.8,3.6, 3.7,3.4,3.4,3.0,3.0,2.8,2.9,2.7,2.6,2.4, 2.5,2.1,2.2,1.9,2.0,1.8,1.8,1.6,1.7,1.5, 1.7,1.4,1.5,1.3,1.4,1.2,1.3,1.2,1.3,1.1];
const hENFDots = [-0.6,-0.2,-0.5,0.0,-0.2,0.2,0.0,0.4,0.2,0.7, 0.5,1.0,0.8,1.4,1.3,1.9,1.9,2.7,2.6,3.2, 2.9,3.6,3.4,4.3,3.9,4.6,4.2,5.0,4.6,5.5, 5.0,6.0,5.3,6.1,5.4,6.0,5.3,5.8,5.1,5.7, 5.1,5.7,5.0,5.7,5.0,5.6,4.9,5.3,4.7,5.3, 4.6,5.1,4.3,4.9,3.9,4.4,3.7,4.1,3.2,3.6, 2.8,3.3,2.5,3.0,2.2,2.7,2.0,2.4,1.6,2.0, 1.3,1.7,0.8,1.2,0.3,0.7,0.0,0.4,-0.2,0.2, -0.4,0.1,-0.5,-0.1,-0.7,-0.3,-0.7,-0.2,-0.6,-0.1];
const hENFDotsB = [-0.3,-0.5,-0.2,-0.3,0.0,-0.1,0.2,0.2,0.4,0.4, 0.7,0.6,1.0,1.0,1.5,1.6,2.1,2.2,2.8,2.8, 3.2,3.2,3.7,3.7,4.2,4.2,4.6,4.5,5.0,5.0, 5.3,5.3,5.7,5.6,5.8,5.7,5.6,5.4,5.5,5.3, 5.5,5.3,5.4,5.3,5.5,5.3,5.2,5.0,5.0,4.9, 5.0,4.7,4.7,4.4,4.3,4.0,3.9,3.6,3.5,3.1, 3.2,2.8,2.8,2.6,2.5,2.3,2.3,2.0,1.9,1.7, 1.6,1.4,1.1,0.8,0.6,0.3,0.2,0.1,0.0,-0.1, -0.1,-0.3,-0.3,-0.5,-0.4,-0.6,-0.4,-0.5,-0.3,-0.4];
const hGRADots = [-0.4,0.0,-0.2,0.2,-0.1,0.3,0.0,0.4,0.1,0.5, 0.2,0.8,0.6,1.2,0.8,1.4,1.0,1.6,1.2,1.9, 1.6,2.3,1.9,2.5,2.0,2.9,2.5,3.3,2.8,3.5, 2.8,3.4,2.9,3.6,3.0,3.7,3.1,3.8,3.2,3.8, 3.3,3.9,3.2,3.8,3.1,3.7,3.1,3.7,3.1,3.6, 3.0,3.6,2.9,3.4,2.7,3.3,2.5,3.1,2.4,2.9, 2.1,2.7,2.0,2.5,1.8,2.3,1.6,2.1,1.3,1.9, 1.1,1.6,0.9,1.4,0.6,1.1,0.3,0.8,0.0,0.4, -0.1,0.4,-0.1,0.4,-0.2,0.3,-0.4,0.1,-0.4,0.1];
const hGRADotsB = [-0.1,-0.2,0.0,-0.1,0.1,0.0,0.2,0.1,0.3,0.2, 0.4,0.4,0.8,0.9,1.1,1.0,1.3,1.2,1.4,1.5, 1.8,1.9,2.2,2.1,2.4,2.4,2.8,2.8,3.2,3.1, 3.2,3.0,3.3,3.2,3.4,3.3,3.5,3.4,3.6,3.5, 3.6,3.5,3.7,3.5,3.5,3.4,3.5,3.3,3.5,3.3, 3.5,3.3,3.3,3.0,3.0,2.8,2.9,2.7,2.7,2.5, 2.6,2.3,2.3,2.1,2.1,1.9,2.0,1.7,1.7,1.5, 1.4,1.3,1.2,0.9,0.7,0.3,0.3,0.1,0.2,0.1, 0.2,0.1,0.2,0.0,0.1,-0.1,-0.1,-0.2,-0.1,-0.2];
const hMFDots = [-0.3,0.1,-0.2,0.4,0.1,0.8,0.4,0.9,0.5,1.0, 0.8,1.3,1.0,1.8,1.5,2.2,2.0,2.8,2.5,3.1, 2.8,3.4,3.0,3.6,3.1,3.7,3.2,4.0,3.7,4.4, 4.0,4.6,3.9,4.5,3.7,4.2,3.8,4.4,3.8,4.3, 3.7,4.4,3.6,3.9,3.1,3.4,2.8,3.3,2.7,3.2, 2.7,3.1,2.5,2.8,2.3,2.7,2.2,2.6,1.9,2.1, 1.5,2.0,1.4,1.8,1.0,1.5,0.9,1.3,0.6,1.0, 0.5,0.9,0.5,0.9,0.2,0.6,-0.1,0.4,-0.2,0.2, -0.4,0.0,-0.5,0.1,-0.4,0.1,-0.4,0.0,-0.5,-0.1];
const hMFDotsB = [-0.1,-0.2,0.0,0.1,0.3,0.4,0.6,0.5,0.7,0.6, 0.9,0.9,1.3,1.4,1.7,1.7,2.1,2.3,2.7,2.7, 3.0,2.9,3.3,3.2,3.4,3.3,3.7,3.7,4.1,4.0, 4.3,4.2,4.4,4.1,3.9,3.9,4.2,4.0,4.1,3.9, 4.1,3.9,3.9,3.5,3.3,3.1,3.1,2.9,3.0,2.8, 3.0,2.8,2.8,2.5,2.6,2.4,2.4,2.1,2.0,1.8, 1.9,1.6,1.6,1.3,1.3,1.1,1.1,0.9,0.9,0.7, 0.8,0.7,0.8,0.4,0.2,0.1,0.2,0.0,0.0,-0.2, -0.1,-0.3,-0.2,-0.2,-0.1,-0.2,-0.2,-0.3,-0.2,-0.4];
const hSavDots = [1.8,1.6,2.1,1.7,2.6,2.3,2.9,2.5,3.1,2.7, 3.3,2.8,3.4,3.0,3.8,3.5,4.2,3.9,4.6,4.3, 5.0,4.6,5.4,5.0,5.8,5.3,6.0,5.5,6.5,6.1, 6.7,5.8,6.2,5.5,6.4,5.9,6.6,6.0,6.7,6.1, 6.8,6.1,6.9,6.1,6.9,6.2,6.7,5.8,6.2,5.5, 6.0,5.4,5.9,5.3,5.9,5.3,5.8,5.2,5.8,5.1, 5.6,4.9,5.5,4.8,5.3,4.5,5.0,4.3,4.8,4.0, 4.5,3.7,4.1,3.2,3.8,3.1,3.6,2.5,3.0,2.3, 2.8,2.2,2.9,2.3,2.7,2.1,2.6,1.9,2.4,2.0];
const hSavDotsB = [1.8,1.7,1.9,2.0,2.4,2.3,2.6,2.6,2.9,2.8, 3.1,3.0,3.3,3.2,3.6,3.7,4.0,4.0,4.3,4.3, 4.6,4.7,5.1,5.1,5.5,5.5,5.7,5.7,6.1,6.2, 6.4,6.2,5.9,5.7,6.0,6.1,6.3,6.2,6.4,6.3, 6.5,6.3,6.5,6.4,6.6,6.4,6.5,6.1,6.0,5.8, 5.8,5.6,5.8,5.6,5.7,5.5,5.7,5.5,5.5,5.3, 5.4,5.1,5.3,5.0,5.0,4.8,4.8,4.5,4.6,4.3, 4.3,4.0,3.8,3.5,3.6,3.4,3.3,2.8,2.8,2.6, 2.6,2.5,2.6,2.5,2.5,2.3,2.3,2.1,2.2,2.0];
const hWetDots = [-1.1,-0.6,-1.1,-0.5,-0.9,-0.4,-0.8,-0.3,-0.8,-0.4, -0.9,-0.5,-0.9,-0.2,-0.6,-0.2,-0.7,-0.2,-0.7,-0.1, -0.6,0.1,-0.4,0.4,0.0,0.9,0.4,1.4,0.9,1.6, 1.5,2.4,2.0,2.7,1.9,2.5,1.9,2.8,2.6,3.6, 3.1,3.9,3.4,4.2,3.5,3.9,3.2,3.8,3.0,3.6, 2.6,3.2,2.3,2.9,1.8,2.4,1.8,2.4,1.6,2.1, 1.4,1.9,1.2,1.7,0.7,1.2,0.3,0.8,0.1,0.6, -0.1,0.4,-0.4,0.0,-0.8,-0.3,-0.9,-0.4,-1.1,-0.6, -1.1,-0.6,-1.1,-0.6,-1.1,-0.6,-1.2,-0.7,-1.3,-0.6];
const hWetDotsB = [-0.7,-0.9,-0.8,-0.9,-0.6,-0.7,-0.5,-0.6,-0.5,-0.6, -0.6,-0.8,-0.6,-0.7,-0.3,-0.4,-0.4,-0.5,-0.4,-0.5, -0.3,-0.4,-0.1,-0.2,0.3,0.3,0.7,0.8,1.2,1.3, 1.6,1.8,2.3,2.2,2.3,2.1,2.4,2.3,2.9,3.0, 3.4,3.4,3.8,3.8,4.0,3.8,3.6,3.5,3.4,3.2, 3.1,2.8,2.7,2.5,2.2,2.0,2.2,2.0,1.9,1.8, 1.8,1.6,1.6,1.3,1.2,0.8,0.7,0.5,0.5,0.3, 0.3,0.0,-0.1,-0.3,-0.5,-0.6,-0.6,-0.8,-0.8,-0.8, -0.8,-0.9,-0.8,-0.9,-0.8,-0.9,-0.9,-1.0,-0.9,-1.0];

// ---------------- styling / layout ----------------
const FONT = '"Liberation Sans", Arial, Helvetica, sans-serif';
const palette = {Crop:'#ffff00', Shrub:'#ff00ff', DBF:'#0000ff', EBF:'#ff0000', ENF:'#00ff00', GRA:'#ff8080', MF:'#000000', Sav:'#a0a0a0', Wet:'#808000'};

const panels = [
  {key:'LE',
   lines:{Crop:leCropLine, Shrub:leShrubLine, DBF:leDBFLine, EBF:leEBFLine, ENF:leENFLine, GRA:leGRALine, MF:leMFLine, Sav:leSavLine, Wet:leWetLine},
   dots:{Crop:leCropDots, Shrub:leShrubDots, DBF:leDBFDots, EBF:leEBFDots, ENF:leENFDots, GRA:leGRADots, MF:leMFDots, Sav:leSavDots, Wet:leWetDots},
   dotsB:{Crop:leCropDotsB, Shrub:leShrubDotsB, DBF:leDBFDotsB, EBF:leEBFDotsB, ENF:leENFDotsB, GRA:leGRADotsB, MF:leMFDotsB, Sav:leSavDotsB, Wet:leWetDotsB}},
  {key:'H',
   lines:{Crop:hCropLine, Shrub:hShrubLine, DBF:hDBFLine, EBF:hEBFLine, ENF:hENFLine, GRA:hGRALine, MF:hMFLine, Sav:hSavLine, Wet:hWetLine},
   dots:{Crop:hCropDots, Shrub:hShrubDots, DBF:hDBFDots, EBF:hEBFDots, ENF:hENFDots, GRA:hGRADots, MF:hMFDots, Sav:hSavDots, Wet:hWetDots},
   dotsB:{Crop:hCropDotsB, Shrub:hShrubDotsB, DBF:hDBFDotsB, EBF:hEBFDotsB, ENF:hENFDotsB, GRA:hGRADotsB, MF:hMFDotsB, Sav:hSavDotsB, Wet:hWetDotsB}}
];

const series = [];
panels.forEach((p, pi) => {
  classes.forEach(c => {
    const pts = dotDays.map((d,k) => [d, p.dots[c][k]]).concat(dotDaysB.map((d,k) => [d, p.dotsB[c][k]]));
    series.push({
      type:'scatter', name: c + ' ' + p.key + ' daily', xAxisIndex: pi*2, yAxisIndex: pi,
      data: pts, symbol:'circle', symbolSize: 10, itemStyle:{color: palette[c], opacity:1},
      silent:true, emphasis:{disabled:true}, z:2
    });
    series.push({
      type:'line', name: pi === 0 ? c : c + ' ' + p.key, xAxisIndex: pi*2, yAxisIndex: pi,
      data: lineDays.map((d,k) => [d, p.lines[c][k]]),
      showSymbol:false, symbol:'none', lineStyle:{width:8, color: palette[c], join:'round', cap:'round'}, itemStyle:{color: palette[c]},
      silent:true, emphasis:{disabled:true}, z:2
    });
  });
});

const axisLine = {show:true, onZero:false, lineStyle:{color:'#000', width:2}};
const axisTick = {show:true, inside:true, length:19, lineStyle:{color:'#000', width:2}};
function xAx(grid, pos, labels) {
  return {type:'value', gridIndex:grid, position:pos, min:0, max:365, interval:50,
    axisLine, axisTick, splitLine:{show:false},
    axisLabel: labels ? {show:true, fontSize:70, color:'#000', fontFamily:FONT, margin:21, showMaxLabel:false} : {show:false}};
}
function yAx(grid, hideTop) {
  return {type:'value', gridIndex:grid, min:-2, max:10, interval:2,
    axisLine, axisTick, splitLine:{show:false},
    axisLabel:{show:true, fontSize:70, color:'#000', fontFamily:FONT, margin:14,
      formatter: v => (v < 0 || (hideTop && v >= 10)) ? '' : String(v)}};
}

// rotated axis titles with superscripts
const mctx = document.createElement('canvas').getContext('2d');
function tw(t, s) { mctx.font = s + 'px ' + FONT; return mctx.measureText(t).width; }
function yTitle(first, cx, startY) {
  const segs = [[first,false],['-2',true],[' day',false],['-1',true],[' )',false]];
  let off = 0; const children = [];
  segs.forEach(([t, sup]) => {
    const fs = sup ? 56 : 80;
    children.push({type:'text', x: off, y: sup ? -34 : 0,
      style:{text:t, fontSize:fs, fontFamily:FONT, fill:'#000', align:'left', verticalAlign:'middle'}});
    off += tw(t, fs);
  });
  return {type:'group', x: cx, y: startY, rotation: Math.PI/2, children};
}

const option = {
  animation:false,
  backgroundColor:'#fff',
  grid:[
    {left:268.5, top:69, width:1935, height:1116, containLabel:false},
    {left:268.5, top:1185, width:1935, height:1117, containLabel:false}
  ],
  xAxis:[xAx(0,'bottom',false), xAx(0,'top',false), xAx(1,'bottom',true), xAx(1,'top',false)],
  yAxis:[yAx(0,false), yAx(1,true)],
  legend:{
    show:true, data: classes, orient:'vertical', left:1836, top:1019,
    icon:'rect', itemWidth:126, itemHeight:7, itemGap:12.7,
    padding:[12,25,13,25], borderColor:'#000', borderWidth:2, borderRadius:0, backgroundColor:'#fff',
    selectedMode:false,
    textStyle:{fontSize:66, lineHeight:70, color:'#000', fontFamily:FONT, padding:[0,0,0,10]}
  },
  graphic:[
    yTitle('LE (MJ m', 113.5, 943),
    yTitle('H (MJ m', 113.5, 2040),
    {type:'text', x:1240, y:2431, style:{text:'DOY', fontSize:76, fontFamily:FONT, fill:'#000', align:'center', verticalAlign:'middle'}}
  ],
  series
};

const chart = echarts.init(document.getElementById('chart'), null, {renderer:'canvas', width:2181, height:2463});
chart.setOption(option);
</script>
</body></html>
